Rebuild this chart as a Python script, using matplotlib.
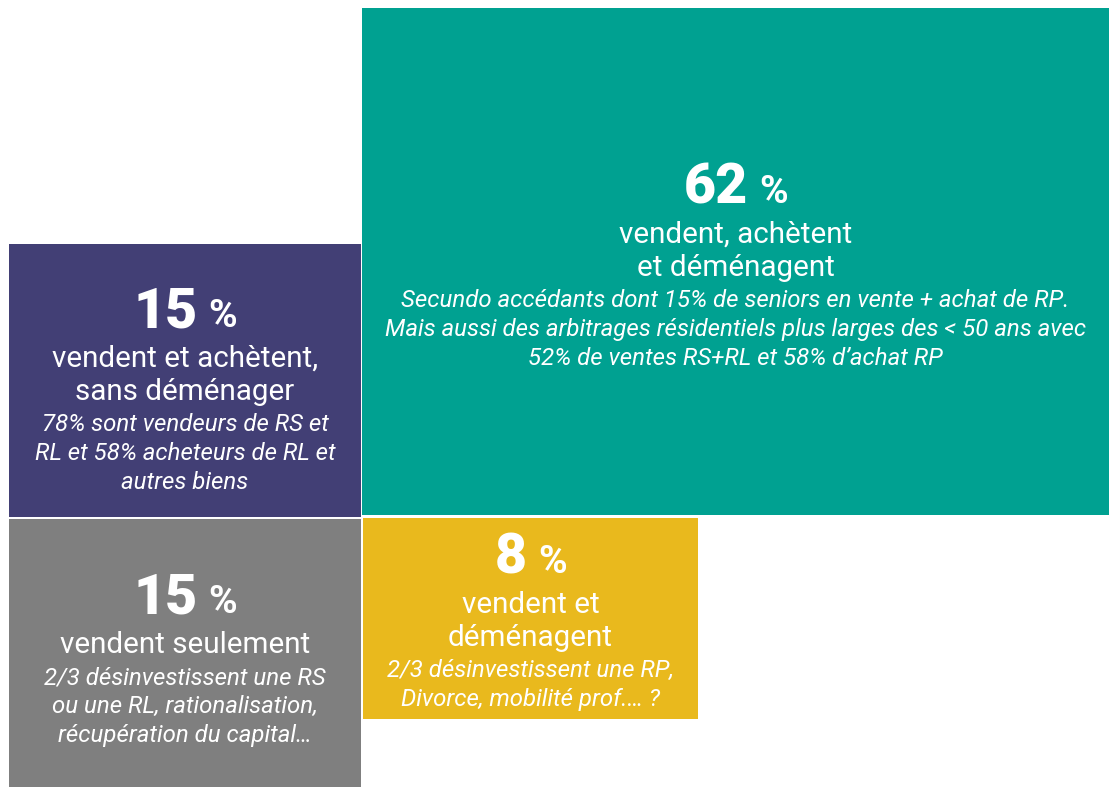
"""Treemap-style breakdown of sellers / buyers profiles."""
import matplotlib
matplotlib.use("Agg")
import matplotlib.pyplot as plt
from matplotlib.patches import Rectangle

plt.rcParams["font.family"] = ["Roboto", "DejaVu Sans"]

# data
shares = [62, 15, 15, 8]
titles = [
    ["vendent, achètent", "et déménagent"],
    ["vendent et achètent,", "sans déménager"],
    ["vendent seulement"],
    ["vendent et", "déménagent"],
]
details = [
    ["Secundo accédants dont 15% de seniors en vente + achat de RP.",
     "Mais aussi des arbitrages résidentiels plus larges des < 50 ans avec",
     "52% de ventes RS+RL et 58% d\u2019achat RP"],
    ["78% sont vendeurs de RS et", "RL et 58% acheteurs de RL et",
     "autres biens"],
    ["2/3 désinvestissent une RS", "ou une RL, rationalisation,",
     "récupération du capital\u2026"],
    ["2/3 désinvestissent une RP,", "Divorce, mobilité prof.\u2026 ?"],
]

# layout (pixel boxes: x0, y0, x1, y1) and styles
boxes = [(362, 8, 1109, 515), (9, 244, 361, 517),
         (9, 519, 361, 787), (363, 518, 698, 719)]
colors = ["#00A191", "#423F75", "#7F7F7F", "#E9B91D"]
num_baseline = [203, 327, 613, 573]

W, H = 1109, 787
fig = plt.figure(figsize=(W / 100, H / 100), dpi=100)
ax = fig.add_axes([0, 0, 1, 1])
ax.set_xlim(0, W)
ax.set_ylim(H, 0)
ax.axis("off")

renderer = fig.canvas.get_renderer()

for i, (x0, y0, x1, y1) in enumerate(boxes):
    ax.add_patch(Rectangle((x0, y0), x1 - x0, y1 - y0, color=colors[i], lw=0))
    cx = (x0 + x1) / 2
    b = num_baseline[i]

    # big number + smaller percent sign, centred together
    t_num = ax.text(cx, b, str(shares[i]), color="white", fontsize=40,
                    fontweight="heavy", ha="left", va="baseline")
    t_pct = ax.text(cx, b, "%", color="white", fontsize=28,
                    fontweight="bold", ha="left", va="baseline")
    w_num = t_num.get_window_extent(renderer).width
    w_pct = t_pct.get_window_extent(renderer).width
    gap = 11
    left = cx - (w_num + gap + w_pct) / 2
    t_num.set_x(left)
    t_pct.set_x(left + w_num + gap)

    y = b + 40
    for line in titles[i]:
        ax.text(cx, y, line, color="white", fontsize=21.3, ha="center",
                va="baseline")
        y += 33
    y -= 2
    for line in details[i]:
        ax.text(cx, y, line, color="white", fontsize=17.3, style="italic",
                ha="center", va="baseline")
        y += 29

fig.savefig("out.png", dpi=100)
plt.close(fig)
